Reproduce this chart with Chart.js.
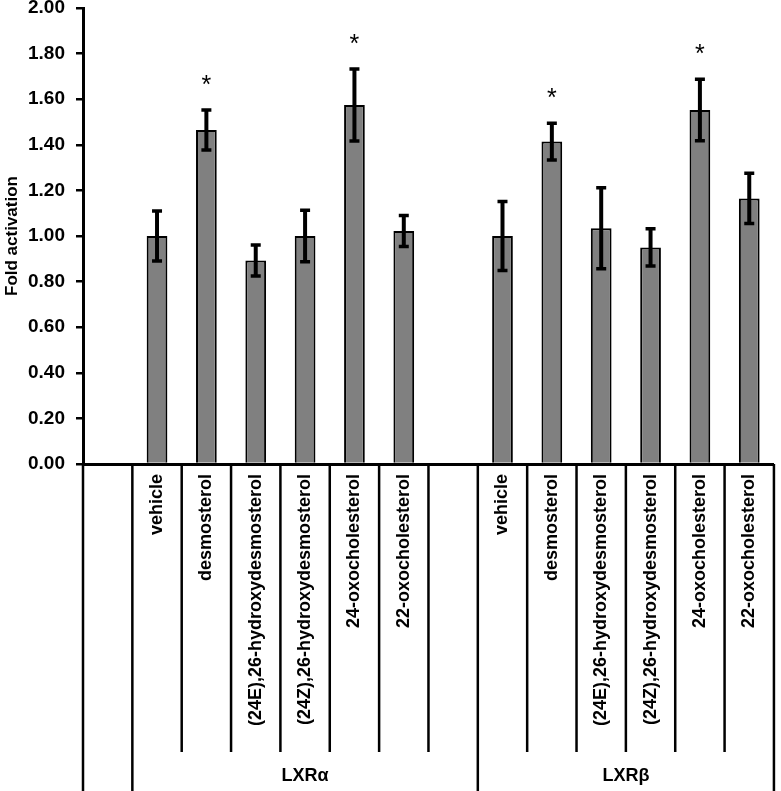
<!DOCTYPE html>
<html><head><meta charset="utf-8">
<script src="https://cdn.jsdelivr.net/npm/chart.js@4/dist/chart.umd.min.js"></script>
<style>html,body{margin:0;padding:0;background:#fff}#wrap{width:781px;height:791px}</style>
</head><body><div id="wrap"><canvas id="c" width="781" height="791"></canvas></div>
<script>
const categories = ['', 'vehicle', 'desmosterol', '(24E),26-hydroxydesmosterol', '(24Z),26-hydroxydesmosterol', '24-oxocholesterol', '22-oxocholesterol', '',
                    'vehicle', 'desmosterol', '(24E),26-hydroxydesmosterol', '(24Z),26-hydroxydesmosterol', '24-oxocholesterol', '22-oxocholesterol'];
const groupLabels = ['', 'LXRα', 'LXRβ'];
const groupStart = [0, 1, 8];
const groupEnd = [0, 7, 13];
const foldActivation = [null, 1.00, 1.465, 0.893, 1.00, 1.575, 1.022, null, 1.00, 1.414, 1.034, 0.95, 1.553, 1.165];
const errorSD = [null, 0.11, 0.088, 0.068, 0.113, 0.158, 0.068, null, 0.151, 0.081, 0.178, 0.082, 0.135, 0.11];
const significant = [false, false, true, false, false, true, false, false, false, true, false, false, true, false];
const yMin = 0, yMax = 2, yStep = 0.2;

const FONT = '"Liberation Sans", Arial, Helvetica, sans-serif';

const overlay = {
  id: 'overlay',
  afterDatasetsDraw(chart) {
    const ctx = chart.ctx, x = chart.scales.x, y = chart.scales.y;
    ctx.save();
    ctx.strokeStyle = '#000';
    ctx.fillStyle = '#000';
    foldActivation.forEach((v, i) => {
      if (v === null) return;
      const cx = x.getPixelForValue(i);
      const top = y.getPixelForValue(v + errorSD[i]);
      const bot = y.getPixelForValue(v - errorSD[i]);
      ctx.lineWidth = 4;
      ctx.beginPath(); ctx.moveTo(cx, top); ctx.lineTo(cx, bot); ctx.stroke();
      ctx.lineWidth = 3.5;
      ctx.beginPath();
      ctx.moveTo(cx - 5, top); ctx.lineTo(cx + 5, top);
      ctx.moveTo(cx - 5, bot); ctx.lineTo(cx + 5, bot);
      ctx.stroke();
      if (significant[i]) {
        ctx.font = '25px ' + FONT;
        ctx.textAlign = 'center';
        ctx.textBaseline = 'alphabetic';
        ctx.fillText('*', cx, top - 17);
      }
    });
    ctx.restore();
  },
  afterDraw(chart) {
    const ctx = chart.ctx, x = chart.scales.x;
    const half = (x.getPixelForValue(1) - x.getPixelForValue(0)) / 2;
    const y0 = chart.chartArea.bottom;
    const H = chart.height;
    const longB = new Set([0, 1, 8, categories.length]);
    ctx.save();
    ctx.strokeStyle = '#000';
    ctx.lineWidth = 2.5;
    for (let b = 0; b <= categories.length; b++) {
      const bx = x.getPixelForValue(b) - half;
      ctx.beginPath();
      ctx.moveTo(bx, y0);
      ctx.lineTo(bx, longB.has(b) ? H : 752);
      ctx.stroke();
    }
    ctx.fillStyle = '#000';
    ctx.font = 'bold 18px ' + FONT;
    ctx.textAlign = 'center';
    ctx.textBaseline = 'middle';
    groupLabels.forEach((g, k) => {
      if (!g) return;
      const gx = (x.getPixelForValue(groupStart[k]) + x.getPixelForValue(groupEnd[k])) / 2;
      ctx.fillText(g, gx, 776);
    });
    ctx.restore();
  }
};

new Chart(document.getElementById('c'), {
  type: 'bar',
  data: {
    labels: categories,
    datasets: [{
      data: foldActivation,
      backgroundColor: '#808080',
      borderColor: '#000',
      borderWidth: 2,
      barPercentage: 0.42,
      categoryPercentage: 1.0
    }]
  },
  options: {
    responsive: false,
    devicePixelRatio: 1,
    animation: false,
    layout: { padding: { top: 0, right: 4, left: 0, bottom: 0 } },
    plugins: { legend: { display: false }, tooltip: { enabled: false } },
    scales: {
      x: {
        offset: true,
        grid: { display: false, drawTicks: false },
        border: { display: true, color: '#000', width: 3 },
        ticks: {
          autoSkip: false, maxRotation: 90, minRotation: 90, padding: 10,
          color: '#000', font: { family: FONT, size: 18, weight: 'bold' }
        },
        afterFit(scale) { scale.height = 327; }
      },
      y: {
        min: yMin, max: yMax,
        grid: { drawOnChartArea: false, drawTicks: true, tickLength: 7, color: '#000', lineWidth: 2.5 },
        border: { display: true, color: '#000', width: 3 },
        ticks: {
          stepSize: yStep, padding: 11, color: '#000',
          font: { family: FONT, size: 19, weight: 'bold' },
          callback: v => Number(v).toFixed(2)
        },
        title: { display: true, text: 'Fold activation', color: '#000', padding: { top: 2, bottom: 0 },
                 font: { family: FONT, size: 17, weight: 'bold' } },
        afterFit(scale) { scale.width = 83; scale.paddingTop = 8; }
      }
    }
  },
  plugins: [overlay]
});
</script>
</body></html>
